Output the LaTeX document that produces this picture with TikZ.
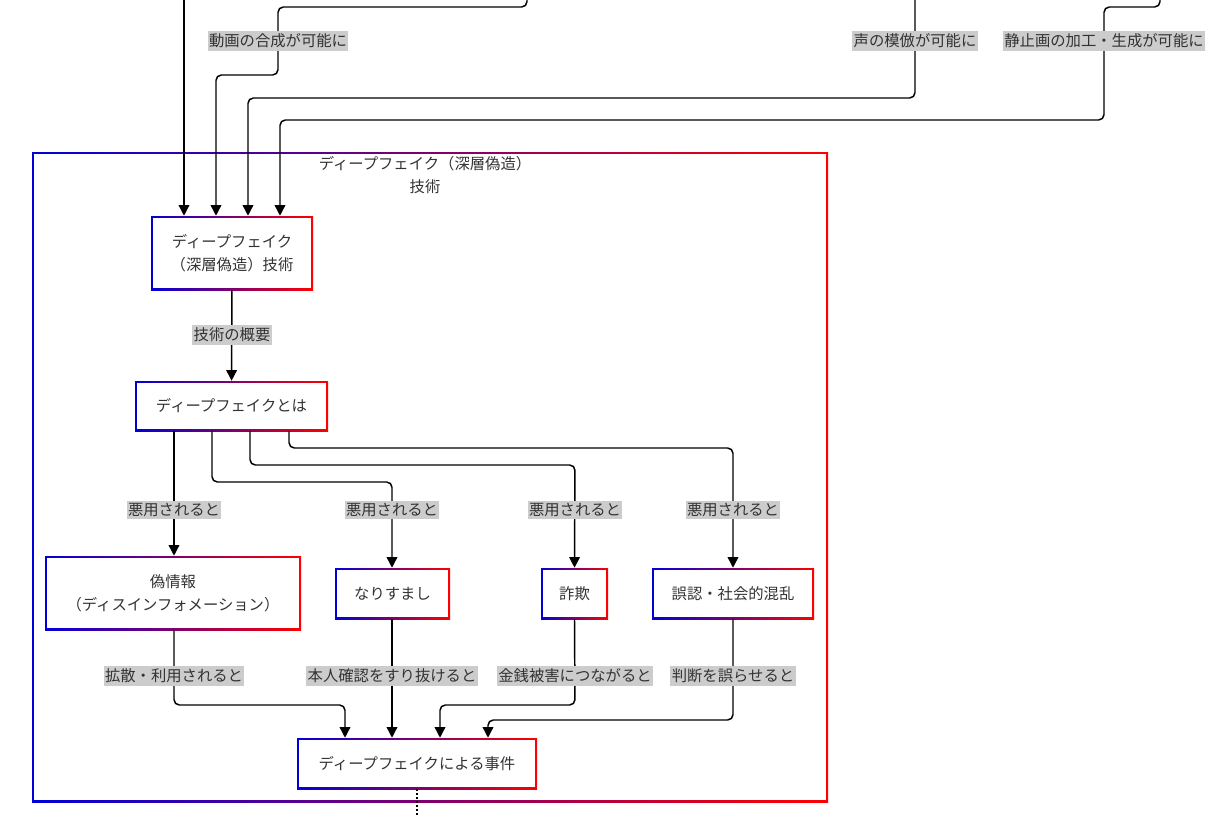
\documentclass[tikz,border=0pt]{standalone}
\usepackage{fontspec}
\setmainfont{Noto Sans CJK JP}
\usetikzlibrary{arrows.meta}
\begin{document}
\begin{tikzpicture}[x=0.75pt,y=-0.75pt,
  gb/.style={path picture={
    \shade[left color=blue!85!black,right color=red] (path picture bounding box.south west) rectangle (path picture bounding box.north east);
    \fill[white] ([shift={(1.2pt,1.2pt)}]path picture bounding box.south west) rectangle ([shift={(-1.2pt,-1.2pt)}]path picture bounding box.north east);}},
  box/.style={gb,inner sep=0pt,align=center,font=\fontsize{11.5}{17}\selectfont,text=black!80},
  lab/.style={fill=black!20,inner xsep=1pt,inner ysep=2pt,font=\fontsize{11.5}{13}\selectfont,text=black!80},
  e/.style={line width=1.1pt,rounded corners=4pt,-{Triangle[length=8pt,width=8pt]}},
  ln/.style={line width=1.1pt,rounded corners=4pt}]
\useasboundingbox (0,0) rectangle (1211,817);
\node[gb,minimum width=597pt,minimum height=487.5pt,inner sep=0pt] (cl) at (430,477) {};
\node[font=\fontsize{11.5}{17}\selectfont,text=black!80,align=center] (clt) at (425,175) {ディープフェイク（深層偽造）\\技術};
\node[box,minimum width=121.5pt,minimum height=55.5pt] (A) at (232,253) {ディープフェイク\\（深層偽造）技術};
\node[box,minimum width=144.75pt,minimum height=37.5pt] (B) at (231.5,406) {ディープフェイクとは};
\node[box,minimum width=192pt,minimum height=55.5pt] (C) at (173,593) {偽情報\\（ディスインフォメーション）};
\node[box,minimum width=86.25pt,minimum height=38.25pt] (D) at (392.5,593.5) {なりすまし};
\node[box,minimum width=50.25pt,minimum height=38.25pt] (E) at (574.5,593.5) {詐欺};
\node[box,minimum width=121.5pt,minimum height=38.25pt] (F) at (733,593.5) {誤認・社会的混乱};
\node[box,minimum width=180pt,minimum height=38.25pt] (G) at (417,763.5) {ディープフェイクによる事件};
% incoming
\coordinate (t1) at (184,0); \coordinate (t2) at (527,0); \coordinate (t3) at (915,0); \coordinate (t4) at (1160,0);
\draw[e] (t1) -- (t1 |- A.north);
\draw[e] (t2) -- (527,7) -- (278,7) -- (278,75) -- (216,75) -- (216,0 |- A.north);
\draw[e] (t3) -- (915,98) -- (248,98) -- (248,0 |- A.north);
\draw[e] (t4) -- (1160,7) -- (1104,7) -- (1104,120) -- (280,120) -- (280,0 |- A.north);
\node[lab] (l1) at (278,41) {動画の合成が可能に};
\node[lab] (l2) at (915,41) {声の模倣が可能に};
\node[lab] (l3) at (1104,41) {静止画の加工・生成が可能に};
% inner
\draw[e] (A) -- (B);
\node[lab] (l4) at (232,335) {技術の概要};
\draw[e] (174,0 |- B.south) -- (174,0 |- C.north);
\draw[e] (212,0 |- B.south) -- (212,482) -- (392,482) -- (D.north -| 392,0);
\draw[e] (250,0 |- B.south) -- (250,465) -- (575,465) -- (E.north);
\draw[e] (289,0 |- B.south) -- (289,448) -- (733,448) -- (F.north);
\foreach \x/\n in {174/a,392/b,575/c,733/d} \node[lab] (m\n) at (\x,510) {悪用されると};
\draw[e] (174,0 |- C.south) -- (174,705) -- (345,705) -- (345,0 |- G.north);
\draw[e] (392,0 |- D.south) -- (392,0 |- G.north);
\draw[e] (E.south) -- (575,705) -- (440,705) -- (440,0 |- G.north);
\draw[e] (F.south) -- (733,720) -- (488,720) -- (488,0 |- G.north);
\node[lab] (n1) at (174,676) {拡散・利用されると};
\node[lab] (n2) at (392,676) {本人確認をすり抜けると};
\node[lab] (n3) at (575,676) {金銭被害につながると};
\node[lab] (n4) at (733,676) {判断を誤らせると};
\coordinate (bot) at (417,817);
\draw[line width=1pt,dotted] (G.south) -- (bot);
\end{tikzpicture}
\end{document}
